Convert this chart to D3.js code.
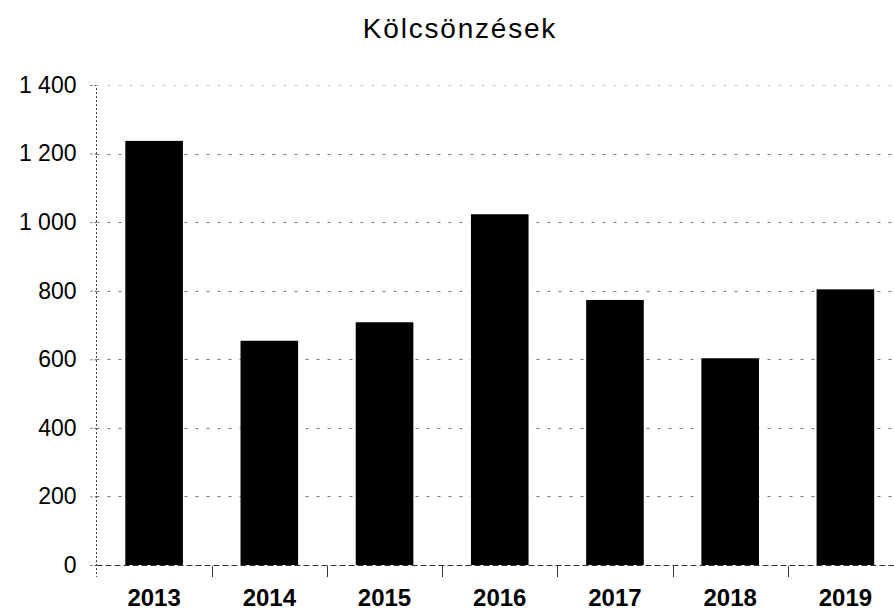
<!DOCTYPE html>
<html><head><meta charset="utf-8">
<script src="https://cdn.jsdelivr.net/npm/d3@7"></script>
<style>
html,body{margin:0;padding:0;background:#fff;}
svg{display:block;}
</style></head>
<body>
<script>
const years = ["2013","2014","2015","2016","2017","2018","2019"];
const values = [1237, 654, 708, 1023, 773, 603, 804];
const yTicks = [0, 200, 400, 600, 800, 1000, 1200, 1400];
const title = "Kölcsönzések";

const W = 894, H = 613;
const svg = d3.select("body").append("svg").attr("width", W).attr("height", H);

const x = d3.scaleBand().domain(years).range([96.5, 903]).paddingInner(0.5).paddingOuter(0.25);
const y = d3.scaleLinear().domain([0, 1400]).range([565, 85]);
const fmt = d3.formatLocale({decimal: ",", thousands: " ", grouping: [3], currency: ["", ""]}).format(",d");

// gridlines
svg.append("g").selectAll("line").data(yTicks.filter(d => d > 0)).join("line")
  .attr("x1", 96.5).attr("x2", W).attr("y1", d => Math.round(y(d)) + 0.5).attr("y2", d => Math.round(y(d)) + 0.5)
  .attr("stroke", d => d === 1400 ? "#c8c8c8" : "#777").attr("stroke-width", 1)
  .attr("stroke-dasharray", "3,8");

// bars
svg.append("g").selectAll("rect").data(years).join("rect")
  .attr("x", d => x(d)).attr("width", x.bandwidth())
  .attr("y", (d, i) => y(values[i])).attr("height", (d, i) => y(0) - y(values[i]))
  .attr("fill", "#000");

// y axis
const ya = svg.append("g").attr("transform", "translate(96.5,0)")
  .call(d3.axisLeft(y).tickValues(yTicks).tickFormat(fmt).tickSize(6).tickPadding(14));
ya.select(".domain").attr("stroke", "#444").attr("stroke-dasharray", "2,2").attr("d", "M0,88V577");
ya.selectAll(".tick line").attr("stroke", "#555").attr("stroke-dasharray", "2,2");
ya.selectAll("text").attr("font-family", "Liberation Sans, Arial, sans-serif").attr("font-size", 23).attr("fill", "#000");

// x axis baseline
svg.append("line").attr("x1", 96.5).attr("x2", W).attr("y1", 565.5).attr("y2", 565.5)
  .attr("stroke", "#333").attr("stroke-dasharray", "6,3");

// x separator ticks
const seps = years.slice(1).map(d => x(d) - x.step() * x.paddingInner() / 2 - x.bandwidth() / 2 + x.bandwidth() / 2);
svg.append("g").selectAll("line").data(years.slice(1)).join("line")
  .attr("x1", d => Math.round(x(d) - (x.step() - x.bandwidth()) / 2) + 0.5)
  .attr("x2", d => Math.round(x(d) - (x.step() - x.bandwidth()) / 2) + 0.5)
  .attr("y1", 566).attr("y2", 577).attr("stroke", "#333");

// x labels
svg.append("g").selectAll("text").data(years).join("text")
  .attr("x", d => x(d) + x.bandwidth() / 2).attr("y", 606)
  .attr("text-anchor", "middle").attr("font-family", "Liberation Sans, Arial, sans-serif")
  .attr("font-size", 24).attr("font-weight", "bold").text(d => d);

// title
svg.append("text").attr("x", 460).attr("y", 38).attr("text-anchor", "middle")
  .attr("font-family", "Liberation Sans, Arial, sans-serif").attr("font-size", 28)
  .attr("letter-spacing", 1.8).text(title);
</script>
</body></html>
